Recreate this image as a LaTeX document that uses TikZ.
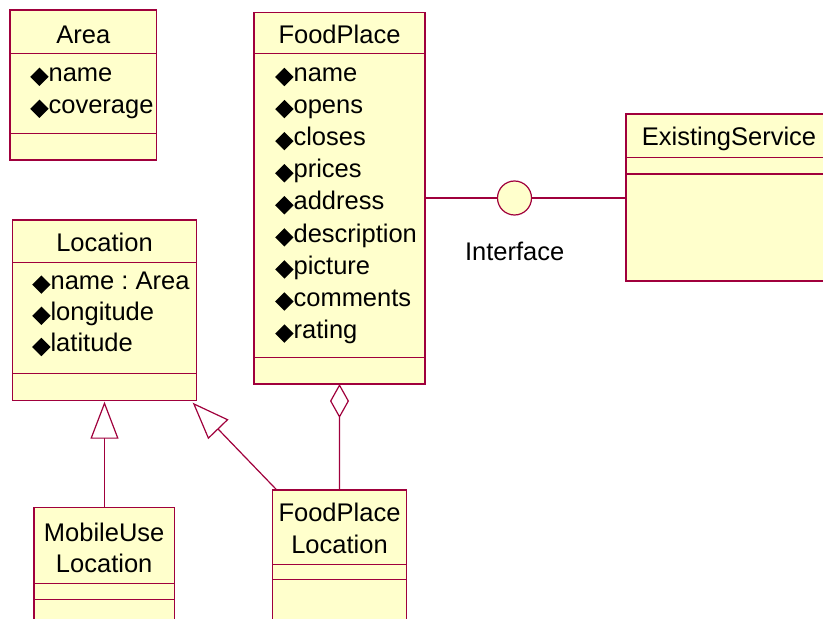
\documentclass[tikz,border=0pt]{standalone}
\usepackage{fontspec}
\setmainfont{Liberation Sans}
\usetikzlibrary{positioning}
\usetikzlibrary{arrows.meta}

\definecolor{umlline}{RGB}{160,0,60}
\definecolor{umlfill}{RGB}{255,255,204}
\newcommand{\attrmark}{\raisebox{-4.5bp}{\rotatebox{45}{\rule{13bp}{13bp}}}}
\frenchspacing

\tikzset{
  classbox/.style={draw=umlline, fill=umlfill, line width=1.2bp, inner sep=0pt, outer sep=0pt, anchor=north west},
  sepline/.style={draw=umlline, line width=1.2bp},
  link/.style={draw=umlline, line width=1.2bp},
  classname/.style={anchor=base, inner sep=0pt, font=\fontsize{25.5bp}{32bp}\selectfont},
  attr/.style={anchor=base west, inner sep=0pt, font=\fontsize{25.5bp}{32bp}\selectfont},
  gen/.style={link, -{Triangle[width=28bp, length=37bp, fill=white]}},
  agg/.style={link, {Diamond[width=19bp, length=34bp, fill=white]}-},
}

\begin{document}
\begin{tikzpicture}[x=1bp, y=-1bp]
  \useasboundingbox (0,0) rectangle (823,619);

  % Area
  \node[classbox, minimum width=146.7bp, minimum height=150bp] (area) at (10,10) {};
  \draw[sepline] (area.west |- 0,53.3) -- (area.east |- 0,53.3); %クラス名
  \draw[sepline] (area.west |- 0,133.3) -- (area.east |- 0,133.3); %属性
  \node[classname] (area-name) at (83.4,43.3) {Area};
  \foreach \a [count=\i from 0] in {name,coverage}
    \node[attr] (area-attr-\i) at (30, 81.5+32*\i) {\attrmark\a};

  % FoodPlace
  \node[classbox, minimum width=171bp, minimum height=371.7bp] (foodplace) at (254,12.3) {};
  \draw[sepline] (foodplace.west |- 0,53.3) -- (foodplace.east |- 0,53.3);
  \draw[sepline] (foodplace.west |- 0,357.7) -- (foodplace.east |- 0,357.7);
  \node[classname] (foodplace-name) at (339.5,43.3) {FoodPlace};
  \foreach \a [count=\i from 0] in {name,opens,closes,prices,address,description,picture,comments,rating}
    \node[attr] (foodplace-attr-\i) at (275, 81.7+32.07*\i) {\attrmark\a};

  % ExistingService
  \node[classbox, minimum width=210bp, minimum height=167bp] (existing) at (626,114) {};
  \draw[sepline] (existing.west |- 0,157.3) -- (existing.east |- 0,157.3);
  \draw[sepline] (existing.west |- 0,174) -- (existing.east |- 0,174);
  \node[classname] (existing-name) at (729,145.7) {ExistingService};

  % Location
  \node[classbox, minimum width=184.4bp, minimum height=180.7bp] (location) at (12.3,220) {};
  \draw[sepline] (location.west |- 0,262.3) -- (location.east |- 0,262.3);
  \draw[sepline] (location.west |- 0,373.3) -- (location.east |- 0,373.3);
  \node[classname] (location-name) at (104.5,251.7) {Location};
  \foreach \a [count=\i from 0] in {name : Area,longitude,latitude}
    \node[attr] (location-attr-\i) at (32, 289.3+31.2*\i) {\attrmark\a};

  % MobileUseLocation
  \node[classbox, minimum width=140.3bp, minimum height=130bp] (mobileuse) at (34,507.7) {};
  \draw[sepline] (mobileuse.west |- 0,583.3) -- (mobileuse.east |- 0,583.3);
  \draw[sepline] (mobileuse.west |- 0,599.3) -- (mobileuse.east |- 0,599.3);
  \node[classname] (mobileuse-name) at (104.2,541) {MobileUse};
  \node[classname] (mobileuse-name2) at (104.2,572.7) {Location};

  % FoodPlaceLocation
  \node[classbox, minimum width=134.4bp, minimum height=150bp] (fploc) at (272.3,490) {};
  \draw[sepline] (fploc.west |- 0,564.3) -- (fploc.east |- 0,564.3);
  \draw[sepline] (fploc.west |- 0,579.3) -- (fploc.east |- 0,579.3);
  \node[classname] (fploc-name) at (339.5,521.7) {FoodPlace};
  \node[classname] (fploc-name2) at (339.5,553.3) {Location};

  % Interface
  \node[draw=umlline, fill=umlfill, circle, minimum size=34bp, inner sep=0pt, line width=1.2bp] (intf) at (514.5,198) {};
  \draw[link] (foodplace.east |- intf) -- (intf);
  \draw[link] (intf) -- (existing.west |- intf);
  \node[classname] (intf-label) at (514.7,260) {Interface};

  % 汎化・集約
  \draw[gen] (mobileuse.north -| location.south) -- ([yshift=-1bp]location.south);
  \draw[gen] ([xshift=4.5bp]fploc.north west) -- ([xshift=-4bp, yshift=-2bp]location.south east);
  \draw[agg] (foodplace.south) -- (fploc.north);
\end{tikzpicture}
\end{document}
